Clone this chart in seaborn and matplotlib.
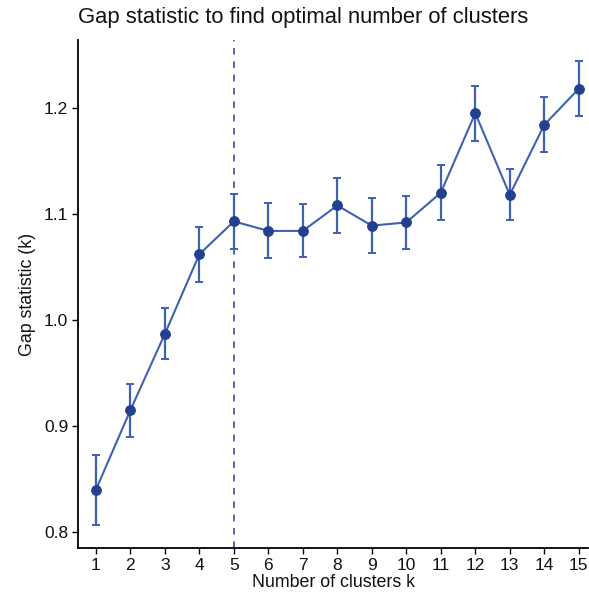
import matplotlib
matplotlib.use("Agg")
import matplotlib.pyplot as plt
import seaborn as sns
import pandas as pd

# Gap statistic per number of clusters, with standard error
k_values = [1, 2, 3, 4, 5, 6, 7, 8, 9, 10, 11, 12, 13, 14, 15]
gap = [0.840, 0.915, 0.987, 1.062, 1.093, 1.084, 1.084, 1.108, 1.089,
       1.092, 1.120, 1.195, 1.118, 1.184, 1.218]
gap_se = [0.033, 0.025, 0.024, 0.026, 0.026, 0.026, 0.025, 0.026, 0.026,
          0.025, 0.026, 0.026, 0.024, 0.026, 0.026]
optimal_k = 5

df = pd.DataFrame({"k": k_values, "gap": gap, "se": gap_se})

sns.set_theme(style="ticks")
plt.rcParams["font.family"] = ["Liberation Sans", "DejaVu Sans"]

fig = plt.figure(figsize=(5.89, 5.97), dpi=100)
ax = fig.add_axes([0.1324, 0.082, 0.866, 0.851])

line_col = "#3f62b0"
point_col = "#23408f"

ax.axvline(optimal_k, color="#3b50a3", linestyle=(0, (4, 4)), linewidth=1.2, zorder=1)
ax.errorbar(df["k"], df["gap"], yerr=df["se"], fmt="none", ecolor=line_col,
            elinewidth=1.6, capsize=3, capthick=1.4, zorder=2)
sns.lineplot(data=df, x="k", y="gap", ax=ax, color=line_col, linewidth=1.5,
             marker="o", markersize=7, markerfacecolor=point_col,
             markeredgecolor=point_col, zorder=3)

ax.set_xlim(0.48, 15.27)
ax.set_ylim(0.785, 1.264)
ax.set_xticks(k_values)
ax.set_yticks([0.8, 0.9, 1.0, 1.1, 1.2])
ax.set_yticklabels(["0.8", "0.9", "1.0", "1.1", "1.2"])

for side in ["top", "right"]:
    ax.spines[side].set_visible(False)
for side in ["left", "bottom"]:
    ax.spines[side].set_color("black")
    ax.spines[side].set_linewidth(1.3)
ax.tick_params(axis="both", colors="black", length=4, width=1.0,
               labelsize=12.5, pad=3, labelcolor="#111111")

ax.set_xlabel("Number of clusters k", fontsize=12.8, color="#111111", labelpad=1)
ax.set_ylabel("Gap statistic (k)", fontsize=12.8, color="#111111", labelpad=6)
fig.text(0.1324, 0.9715, "Gap statistic to find optimal number of clusters",
         fontsize=15.8, color="#111111", ha="left", va="center")

fig.savefig("out.png", dpi=100)
